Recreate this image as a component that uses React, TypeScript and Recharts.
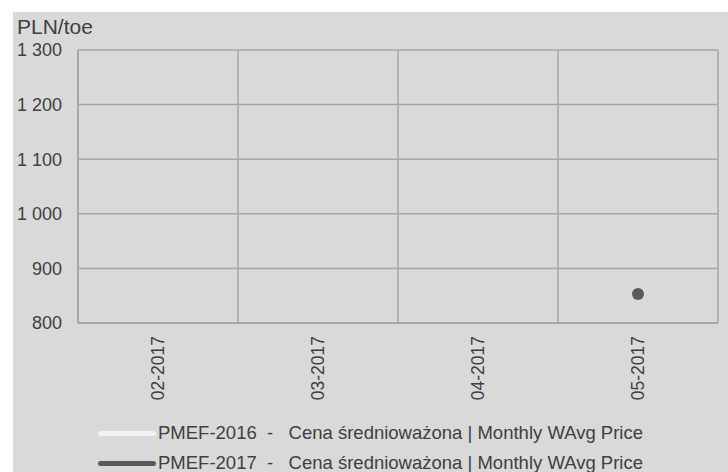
import React from 'react';
import { LineChart, Line, XAxis, YAxis, CartesianGrid } from 'recharts';

const months = ['02-2017', '03-2017', '04-2017', '05-2017'];
const pmef2016: (number | null)[] = [null, null, null, null];
const pmef2017: (number | null)[] = [null, null, null, 853];
const yTicks = [800, 900, 1000, 1100, 1200, 1300];

const seriesLabel = 'Cena średnioważona | Monthly WAvg Price';
const legendItems = [
  { name: 'PMEF-2016', color: '#f2f2f2' },
  { name: 'PMEF-2017', color: '#595959' },
];

const data = months.map((m, i) => ({ month: m, p2016: pmef2016[i], p2017: pmef2017[i] }));

const FONT = '"Liberation Sans", Arial, sans-serif';
const TEXT = '#404040';
const GRID = '#a6a6a6';

const fmt = (v: number) => String(v).replace(/\B(?=(\d{3})+(?!\d))/g, ' ');

function MonthTick({ x, y, payload }: any) {
  return (
    <text
      x={x}
      y={y}
      transform={`rotate(-90, ${x}, ${y})`}
      textAnchor="end"
      dy="0.35em"
      fill={TEXT}
      fontSize={17.5}
      fontFamily={FONT}
    >
      {payload.value}
    </text>
  );
}

export default function App() {
  return (
    <div style={{ position: 'absolute', left: 0, top: 0, width: 728, height: 472, background: '#fff', fontFamily: FONT }}>
      <div style={{ position: 'absolute', left: 13, top: 12, width: 715, height: 460, background: '#d9d9d9' }} />
      <div style={{ position: 'absolute', left: 17, top: 15, fontSize: 21, color: TEXT, lineHeight: '24px' }}>PLN/toe</div>
      <div style={{ position: 'absolute', left: 0, top: 0 }}>
        <LineChart width={728} height={472} data={data} margin={{ top: 50, right: 10, bottom: 0, left: 18 }}>
          <CartesianGrid
            stroke={GRID}
            strokeWidth={1.5}
            verticalCoordinatesGenerator={({ offset }: any) =>
              months.map((_, i) => offset.left + (i * offset.width) / months.length).concat(offset.left + offset.width)
            }
          />
          <XAxis
            dataKey="month"
            scale="band"
            height={149}
            tickSize={0}
            tickMargin={13}
            axisLine={{ stroke: GRID, strokeWidth: 2 }}
            tick={<MonthTick />}
            interval={0}
          />
          <YAxis
            domain={[800, 1300]}
            ticks={yTicks}
            width={60}
            tickSize={0}
            tickMargin={16}
            tickFormatter={fmt}
            axisLine={{ stroke: GRID, strokeWidth: 2 }}
            tick={{ fill: TEXT, fontSize: 18, fontFamily: FONT }}
          />
          <Line dataKey="p2016" stroke="#f2f2f2" strokeWidth={4} dot={false} isAnimationActive={false} connectNulls={false} />
          <Line
            dataKey="p2017"
            stroke="#595959"
            strokeWidth={4}
            dot={{ r: 6, fill: '#595959', stroke: '#595959', strokeWidth: 0 }}
            isAnimationActive={false}
          />
        </LineChart>
      </div>
      {legendItems.map((it, i) => (
        <div
          key={it.name}
          style={{ position: 'absolute', left: 98, top: 421 + i * 30, height: 24, display: 'flex', alignItems: 'center', fontSize: 18.5, color: TEXT, whiteSpace: 'pre' }}
        >
          <span style={{ display: 'inline-block', width: 58, height: 5, borderRadius: 3, background: it.color, marginRight: 2 }} />
          <span>{`${it.name}  -   ${seriesLabel}`}</span>
        </div>
      ))}
    </div>
  );
}
